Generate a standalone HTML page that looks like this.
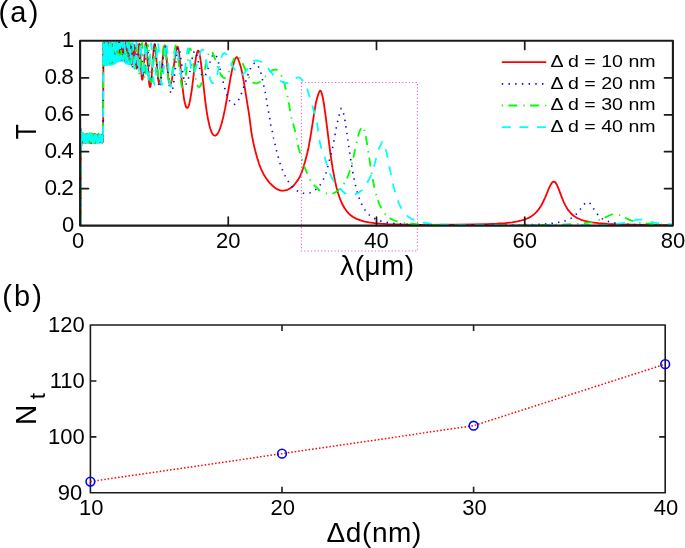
<!DOCTYPE html>
<html><head><meta charset="utf-8"><style>
html,body{margin:0;padding:0;background:#fff;overflow:hidden;}
svg{display:block;will-change:transform;}
text{font-family:"Liberation Sans", sans-serif;}
</style></head><body>
<svg width="685" height="548" viewBox="0 0 685 548">
<path d="M103.20,42.30 L133.70,42.30 L131.70,68.28 L131.20,67.10 L130.70,65.90 L130.20,65.10 L129.70,64.96 L129.20,64.93 L128.70,64.90 L128.20,64.89 L127.70,64.86 L127.20,64.82 L126.70,64.73 L126.20,64.48 L125.70,64.14 L125.20,63.75 L124.70,63.33 L124.20,62.72 L123.70,62.12 L123.20,61.74 L122.70,61.70 L122.20,61.72 L121.70,61.75 L121.20,61.78 L120.70,61.83 L120.20,61.90 L119.70,61.99 L119.20,62.10 L118.70,62.23 L118.20,62.39 L117.70,62.55 L117.20,62.73 L116.70,62.94 L116.20,63.26 L115.70,63.66 L115.20,64.07 L114.70,64.44 L114.20,64.72 L113.70,64.89 L113.20,65.03 L112.70,65.15 L112.20,65.25 L111.70,65.34 L111.20,65.43 L110.70,65.50 L110.20,65.57 L109.70,65.64 L109.20,65.71 L108.70,65.78 L108.20,65.85 L107.70,65.92 L107.20,65.98 L106.70,66.04 L106.20,66.09 L105.70,66.13 L105.20,66.16 L104.70,66.19 L104.20,66.20 L103.70,66.20 L103.20,66.20Z" fill="#00ffff"/>
<path d="M80.60,225.50 80.70,131.00 80.90,129.07 81.30,145.54 81.80,133.00 82.04,134.89 82.28,142.20 82.64,134.28 82.88,142.45 83.12,134.68 83.24,134.65 83.48,142.56 83.84,134.29 84.08,142.29 84.20,141.54 84.44,134.60 84.80,142.46 85.16,134.54 85.52,142.90 85.76,134.60 85.88,134.74 86.12,142.32 86.48,134.17 86.72,141.62 86.84,141.88 87.08,134.39 87.44,141.66 87.56,141.43 87.80,134.57 88.16,142.20 88.52,134.50 88.76,141.73 88.88,142.11 89.12,134.81 89.60,141.91 89.84,134.43 90.20,142.73 90.44,134.25 90.68,141.69 90.80,142.60 91.16,134.11 91.52,143.06 91.76,134.44 92.00,140.93 92.12,140.94 92.36,134.65 92.60,142.10 92.96,135.43 93.20,141.83 93.32,142.35 93.56,134.64 93.92,142.86 94.28,133.91 94.52,141.57 94.64,141.89 94.88,135.76 95.00,136.41 95.12,135.78 95.36,142.77 95.60,134.03 95.96,142.40 96.08,141.67 96.32,134.79 96.68,142.23 96.92,134.79 97.16,142.10 97.28,141.59 97.52,136.28 97.64,135.84 97.88,142.43 98.12,135.15 98.48,142.36 98.84,134.99 99.08,142.34 99.44,135.58 99.56,136.49 99.68,141.82 99.80,142.49 100.04,134.87 100.16,135.18 100.28,140.80 100.40,141.89 100.64,135.62 100.76,135.98 101.00,141.74 101.12,141.54 101.36,135.90 101.60,142.45 101.84,135.29 101.96,135.50 102.20,142.60 102.56,134.48 102.80,141.76 102.92,141.13 103.10,134.50 103.50,43.31 103.94,64.31 104.42,43.71 104.90,61.94 105.34,46.05 105.42,45.02 105.46,45.35 105.94,63.80 106.46,43.89 106.50,43.62 106.58,44.64 106.94,60.28 107.10,62.37 107.66,42.11 108.26,61.36 108.30,61.58 108.34,61.48 108.46,59.43 108.82,45.97 108.98,43.85 109.46,60.18 109.66,63.33 110.38,42.84 110.94,60.39 111.14,63.17 111.34,60.54 111.74,47.57 111.94,44.86 112.14,47.65 112.58,60.50 112.78,62.47 112.98,60.39 113.46,47.34 113.66,45.12 113.86,47.15 114.34,59.16 114.58,61.70 114.82,59.71 115.34,47.07 115.54,44.58 115.58,44.49 115.66,44.71 115.78,45.90 116.54,59.02 116.62,59.25 116.70,59.12 116.86,57.79 117.46,46.68 117.74,44.40 118.02,46.59 118.62,57.17 118.78,58.71 118.94,59.14 119.26,56.45 119.90,44.75 120.18,42.83 120.46,44.98 121.10,56.81 121.42,59.97 121.50,60.14 121.62,59.93 121.82,58.40 122.58,46.18 122.78,44.14 122.94,43.58 123.10,44.08 123.30,46.02 124.10,58.31 124.30,59.93 124.50,60.39 124.70,59.64 124.94,57.27 125.78,44.49 125.98,42.91 126.14,42.56 126.34,43.39 126.54,45.51 127.46,59.75 127.70,61.66 127.90,62.16 128.14,61.50 128.42,59.21 129.42,46.30 129.66,44.75 129.86,44.49 130.06,45.29 130.30,47.50 131.34,61.69 131.62,63.79 131.90,64.47 132.18,63.72 132.50,61.29 133.66,47.28 133.94,45.48 134.18,45.10 134.42,45.98 134.70,48.52 135.94,65.37 136.30,68.00 136.46,68.55 136.62,68.71 136.98,67.61 137.34,64.64 138.74,46.45 139.06,44.24 139.22,43.78 139.34,43.75 139.62,45.12 139.94,48.94 141.42,74.52 141.86,78.54 142.06,79.44 142.26,79.74 142.46,79.52 142.70,78.63 143.18,75.01 145.14,47.73 145.58,43.96 145.82,43.01 146.02,42.87 146.38,44.45 146.78,48.71 148.78,79.95 149.38,85.14 149.70,86.59 150.00,87.11 150.30,86.85 150.60,85.82 151.30,80.66 153.50,51.16 154.00,46.34 154.50,44.07 154.70,43.97 154.80,44.11 155.00,44.75 155.50,48.32 157.30,71.00 158.00,78.03 158.70,82.26 159.00,83.13 159.30,83.43 159.60,83.20 160.00,82.11 160.70,78.21 161.50,71.20 163.30,52.25 163.90,47.82 164.40,45.80 164.70,45.43 165.00,45.78 165.50,48.13 166.10,53.25 167.60,70.01 168.40,77.45 169.30,82.75 169.70,83.92 170.10,84.35 170.50,84.15 171.00,83.19 171.90,79.67 172.90,73.49 175.00,57.01 175.80,51.64 176.70,47.66 177.20,46.68 177.40,46.55 177.60,46.58 178.00,47.34 178.40,48.97 179.20,54.43 182.20,84.57 183.80,97.33 184.60,101.85 185.40,105.10 186.20,107.11 186.60,107.67 187.10,107.97 187.40,107.93 187.80,107.62 188.60,106.12 189.30,103.90 190.10,100.36 191.80,89.75 194.80,65.69 196.00,57.44 196.70,53.89 197.30,51.82 197.90,50.75 198.20,50.60 198.50,50.73 199.00,51.71 199.50,53.55 200.50,59.43 201.50,67.43 205.25,100.95 206.75,111.79 208.00,119.11 209.50,125.91 210.25,128.56 211.25,131.38 212.00,133.00 213.00,134.53 213.75,135.24 214.75,135.64 215.50,135.55 216.25,135.14 217.00,134.42 218.00,133.00 218.75,131.59 219.75,129.26 221.50,123.94 223.25,117.12 225.00,108.90 226.75,99.53 230.75,76.58 232.75,66.70 234.00,61.98 235.00,59.26 236.00,57.60 236.50,57.19 237.10,57.10 238.10,58.96 239.60,63.03 241.10,68.11 242.10,72.56 243.60,80.68 248.60,111.29 249.60,118.18 251.10,130.36 252.10,136.42 253.60,143.86 255.10,150.17 257.10,157.46 259.10,163.98 261.10,169.08 263.60,174.20 266.10,178.26 268.60,181.59 270.10,183.29 272.10,185.26 274.10,187.08 275.60,188.23 277.60,189.34 279.60,190.15 281.10,190.57 282.10,190.70 283.60,190.65 286.60,190.23 287.60,189.78 290.60,188.00 292.60,186.53 293.60,185.55 295.10,183.77 298.10,179.64 299.60,177.16 301.10,173.94 303.10,168.19 305.10,161.47 307.10,153.82 308.60,147.20 310.60,136.06 315.10,107.42 316.10,101.93 317.60,96.34 318.60,93.32 319.60,91.21 320.10,90.60 320.60,90.82 321.10,91.54 322.10,94.41 323.10,99.01 324.10,105.02 325.60,115.90 330.10,151.48 332.60,168.16 335.10,181.38 336.60,187.78 338.10,193.18 340.10,199.07 342.10,203.75 344.60,208.27 347.10,211.68 348.60,213.33 350.10,214.73 353.10,216.97 356.60,218.88 360.60,220.42 364.60,221.52 369.10,222.40 374.60,223.14 380.60,223.68 388.10,224.13 396.60,224.44 420.10,224.80 457.60,224.73 473.60,224.50 486.60,224.16 496.60,223.71 505.10,223.10 512.10,222.32 517.60,221.40 520.60,220.72 523.60,219.87 526.10,218.97 528.60,217.86 531.10,216.46 533.10,215.08 535.10,213.39 536.60,211.88 538.10,210.12 539.60,208.07 541.10,205.70 542.60,202.97 545.10,197.62 549.10,187.97 551.10,183.96 552.10,182.58 552.60,182.09 553.60,181.58 554.10,181.58 554.60,181.76 555.60,182.70 557.10,185.32 558.60,188.91 562.10,198.19 563.60,201.77 565.60,205.87 568.10,209.93 570.60,213.01 572.10,214.49 573.60,215.74 575.10,216.81 577.10,217.99 581.10,219.77 586.10,221.24 591.60,222.31 598.60,223.18 607.60,223.86 618.60,224.35 632.10,224.71 672.60,225.15" fill="none" stroke="#ff0000" stroke-width="1.8" stroke-linejoin="round"/>
<path d="M80.60,225.50 80.70,131.00 80.90,130.97 81.30,147.42 81.80,133.00 82.04,134.24 82.28,141.77 82.40,141.15 82.64,133.29 83.00,142.60 83.24,133.65 83.48,143.03 83.72,134.76 83.84,135.00 84.08,142.88 84.32,134.27 84.68,141.88 85.04,133.93 85.40,142.33 85.64,135.30 85.76,134.62 86.00,142.27 86.24,134.47 86.48,141.10 86.60,141.16 86.84,134.62 86.96,135.76 87.08,142.65 87.44,133.71 87.68,142.91 87.92,135.58 88.04,134.71 88.28,142.04 88.64,135.60 88.88,142.82 89.24,134.67 89.48,142.11 89.72,134.38 90.08,142.22 90.20,142.63 90.44,135.47 90.56,135.48 90.80,142.67 91.04,133.78 91.28,141.35 91.40,142.02 91.64,134.96 91.76,135.08 92.00,141.81 92.12,141.92 92.36,134.57 92.60,142.35 92.84,134.92 92.96,135.40 93.32,142.36 93.56,135.95 93.68,135.48 93.92,142.64 94.16,135.49 94.28,135.12 94.52,143.16 94.76,135.84 94.88,135.07 95.00,136.11 95.12,142.13 95.24,142.29 95.60,135.07 95.72,135.32 95.96,142.88 96.20,135.07 96.56,142.71 96.92,134.99 97.28,142.31 97.64,134.55 97.88,142.16 98.24,135.25 98.48,141.96 98.60,141.62 98.84,134.66 99.08,141.58 99.20,141.41 99.44,135.89 99.56,136.02 99.92,141.96 100.16,134.78 100.52,143.26 100.88,135.12 101.12,142.33 101.24,142.97 101.48,134.35 101.84,142.25 101.96,142.32 102.20,134.61 102.44,142.51 102.56,141.98 102.80,135.27 102.92,137.11 103.10,134.50 103.22,42.32 103.62,62.31 104.02,42.44 104.42,61.87 104.86,43.72 105.30,62.33 105.74,43.69 105.78,43.24 105.86,44.42 106.26,61.07 106.78,43.11 107.26,60.63 107.30,60.87 107.34,60.70 107.42,59.22 107.86,44.88 108.42,62.88 109.02,45.22 109.62,61.04 109.78,59.39 110.30,43.88 110.94,60.14 111.14,58.47 111.54,46.31 111.70,44.44 112.26,58.31 112.38,60.12 112.46,60.40 112.50,60.23 113.22,42.35 113.42,44.65 114.02,60.56 114.06,60.71 114.14,60.49 114.26,59.02 114.74,46.65 114.94,44.34 115.18,46.92 115.66,58.50 115.90,60.33 116.14,57.76 116.78,44.43 116.90,44.23 117.02,45.08 117.62,55.89 117.90,57.95 118.18,55.60 118.78,43.62 119.02,42.05 119.30,44.68 119.86,55.20 120.02,56.93 120.18,57.50 120.46,55.89 121.06,46.75 121.34,44.21 121.42,44.05 121.50,44.17 121.66,45.14 122.38,54.96 122.58,56.67 122.78,57.20 123.14,55.12 123.90,45.39 124.10,44.17 124.18,44.02 124.26,44.10 124.58,46.85 125.34,58.79 125.54,60.52 125.74,61.10 125.94,60.48 126.14,58.75 126.94,46.72 127.30,43.69 127.38,43.54 127.50,43.70 127.70,44.90 128.66,57.47 128.94,59.78 129.18,60.46 129.42,59.93 129.70,57.99 130.74,46.21 130.98,44.86 131.18,44.63 131.38,45.49 131.62,47.95 132.70,64.41 132.98,66.71 133.26,67.46 133.54,66.63 133.86,63.95 135.10,47.06 135.38,45.22 135.50,44.94 135.62,44.99 135.86,46.09 136.14,48.83 137.38,65.95 137.74,68.57 137.90,69.12 138.06,69.28 138.42,68.19 138.78,65.23 140.26,45.82 140.58,43.77 140.74,43.41 140.86,43.47 141.14,44.90 141.46,48.46 142.94,71.65 143.38,75.35 143.58,76.19 143.78,76.49 143.98,76.25 144.18,75.48 144.58,72.44 146.38,46.94 146.78,43.53 146.98,42.75 147.18,42.65 147.54,44.35 147.90,48.17 149.70,75.09 150.30,79.85 150.50,80.65 150.80,81.10 151.00,80.91 151.30,79.93 151.80,76.58 152.40,70.17 154.00,49.42 154.50,45.66 154.80,44.72 155.00,44.70 155.40,46.32 155.90,51.05 157.40,72.34 158.10,80.50 158.80,85.65 159.10,86.85 159.50,87.49 159.80,87.29 160.20,86.19 160.90,82.18 161.70,74.82 163.80,51.23 164.50,46.68 164.80,45.81 165.10,45.64 165.30,45.98 165.60,47.15 166.20,51.58 168.30,76.06 169.30,85.53 170.20,90.87 170.70,92.44 171.20,93.02 171.40,92.99 171.70,92.66 172.20,91.39 173.20,86.40 174.20,78.62 176.80,54.34 177.60,49.49 178.00,48.10 178.30,47.57 178.50,47.46 178.70,47.54 179.10,48.25 179.90,51.61 182.70,72.03 183.80,78.57 184.40,81.12 184.90,82.64 185.40,83.59 185.90,83.98 186.40,83.83 187.00,83.03 187.60,81.58 188.20,79.54 189.40,74.02 192.50,56.88 193.50,53.05 194.00,51.83 194.40,51.23 194.90,50.96 195.30,51.16 195.70,51.71 196.20,52.87 197.20,56.43 199.60,67.60 200.75,72.17 201.50,74.41 202.25,75.98 202.75,76.62 203.50,76.98 204.00,76.85 204.75,76.23 205.50,75.12 206.25,73.57 207.75,69.46 210.75,59.87 212.25,56.15 213.00,54.90 213.75,54.15 214.50,53.92 215.00,54.09 215.75,54.91 216.50,56.34 218.00,60.73 219.50,66.53 224.00,85.57 225.50,90.95 227.00,95.48 228.50,99.08 230.00,101.74 231.50,103.48 232.25,104.02 233.25,104.41 234.00,104.46 234.75,104.28 235.50,103.87 236.25,103.24 237.75,101.35 239.50,98.17 241.00,94.73 242.50,90.76 248.75,72.48 250.25,68.85 251.50,66.39 253.00,64.26 254.25,63.25 255.25,62.96 255.40,63.30 256.40,63.88 257.90,65.83 259.40,68.51 260.40,71.28 261.40,74.76 265.40,93.07 267.40,105.49 269.40,116.38 270.90,125.49 272.40,131.99 273.40,137.31 276.40,150.22 279.40,161.18 280.40,164.39 282.40,169.60 284.90,175.29 287.40,180.16 289.40,183.19 291.90,186.27 295.40,189.60 296.40,190.35 297.90,191.22 299.90,192.23 301.40,192.82 302.90,193.18 305.40,193.39 306.90,193.36 308.40,193.16 309.90,192.86 310.90,192.51 312.40,191.78 314.40,190.56 316.90,188.68 319.40,186.08 321.40,183.13 323.90,178.44 325.40,174.83 326.40,171.74 331.90,150.85 332.90,146.52 336.40,127.38 337.90,120.26 339.40,114.18 340.90,109.01 341.10,108.40 341.60,108.63 342.10,109.31 343.10,111.91 344.10,116.03 345.10,121.38 346.60,130.99 350.60,158.91 352.10,168.29 353.60,176.60 356.10,188.00 357.10,191.77 358.60,196.67 360.60,202.00 362.60,206.23 364.60,209.57 367.10,212.82 369.60,215.28 372.60,217.49 376.10,219.36 379.60,220.69 383.10,221.67 386.60,222.41 390.60,223.03 395.60,223.59 407.60,224.37 424.60,224.85 462.10,225.14 508.10,224.98 533.60,224.51 542.60,224.12 549.60,223.63 556.60,222.82 562.10,221.76 566.60,220.40 568.60,219.57 570.60,218.54 573.60,216.53 576.60,213.80 578.60,211.51 583.10,205.54 584.60,203.79 586.10,202.56 587.10,202.13 587.60,202.05 588.60,202.24 589.10,202.53 590.10,203.46 591.60,205.49 596.10,212.54 598.10,215.05 600.10,217.04 602.10,218.58 604.10,219.78 606.60,220.92 609.60,221.91 613.10,222.72 617.60,223.42 622.60,223.94 629.10,224.37 646.10,224.91 672.60,225.21" fill="none" stroke="#0000ff" stroke-width="1.6" stroke-linejoin="round" stroke-dasharray="1.4 5.2"/>
<path d="M80.60,225.50 80.70,131.00 80.90,130.24 81.30,145.91 81.80,133.00 82.16,141.86 82.40,134.02 82.76,142.30 83.00,134.17 83.12,133.41 83.36,142.12 83.60,133.42 83.96,141.57 84.20,134.42 84.32,134.31 84.56,143.55 84.80,135.15 84.92,134.60 85.16,141.07 85.28,141.58 85.52,134.44 85.76,142.02 85.88,141.77 86.12,134.72 86.36,141.86 86.60,134.11 86.96,141.97 87.32,133.70 87.56,142.27 87.68,141.99 87.92,134.85 88.04,135.53 88.28,142.32 88.52,134.35 88.64,135.29 88.88,142.97 89.12,135.36 89.24,134.45 89.48,142.25 89.60,142.81 89.84,133.16 90.20,142.68 90.44,135.25 90.80,142.63 91.04,135.06 91.28,142.53 91.40,142.06 91.64,133.32 91.88,142.11 92.24,134.35 92.48,141.89 92.60,141.65 92.84,134.44 93.08,141.09 93.20,141.65 93.44,133.87 93.68,142.39 93.80,141.85 94.04,134.31 94.28,142.80 94.64,134.89 94.88,142.01 95.00,141.42 95.24,134.93 95.36,135.02 95.60,142.62 95.84,135.17 96.20,142.31 96.44,135.43 96.56,135.98 96.92,142.95 97.16,135.20 97.40,142.19 97.52,142.32 97.76,134.82 97.88,135.10 98.12,143.01 98.48,133.54 98.72,141.14 98.84,141.66 99.20,134.74 99.44,141.58 99.56,141.49 99.80,135.05 100.04,141.15 100.16,141.66 100.40,134.62 100.64,142.03 100.76,141.47 101.00,135.83 101.24,141.23 101.36,141.81 101.60,135.08 101.96,142.39 102.20,135.68 102.56,143.58 102.92,135.17 103.10,134.50 103.16,64.56 103.52,42.40 103.88,62.49 104.32,44.13 104.64,61.41 104.72,62.54 104.76,61.94 105.12,43.13 105.56,62.96 106.04,42.67 106.48,64.09 106.96,43.00 107.44,62.28 107.48,62.54 107.52,62.30 107.60,60.44 108.00,44.52 108.56,62.69 109.08,45.07 109.12,44.85 109.16,45.07 109.24,46.72 109.56,59.39 109.72,61.70 110.20,45.24 110.36,43.31 110.96,63.84 111.12,61.83 111.64,44.24 112.32,61.83 112.52,60.02 113.08,45.51 113.28,47.99 113.68,59.46 113.80,61.11 113.88,61.33 113.92,61.16 114.48,46.40 114.68,43.87 114.88,46.44 115.32,58.70 115.52,60.82 115.72,58.96 116.20,45.26 116.44,42.33 116.64,44.78 117.12,57.76 117.36,60.43 117.60,58.59 118.32,44.62 118.36,44.52 118.44,44.66 118.56,45.66 119.12,55.60 119.40,57.98 119.56,57.59 119.72,56.08 120.32,46.85 120.48,45.72 120.56,45.61 120.64,45.85 121.40,57.29 121.72,59.58 122.00,57.89 122.68,45.54 123.00,43.04 123.28,45.09 123.92,56.47 124.24,59.56 124.32,59.74 124.44,59.56 124.64,58.18 125.44,46.53 125.64,44.88 125.80,44.58 126.12,46.83 126.92,58.72 127.16,60.52 127.28,60.82 127.36,60.79 127.76,57.79 128.60,44.92 128.80,43.28 128.92,42.91 129.00,42.93 129.36,45.82 130.24,59.97 130.48,62.19 130.72,62.97 130.96,62.29 131.24,59.87 132.24,46.01 132.48,44.33 132.60,44.04 132.68,44.07 132.88,45.10 133.12,47.95 134.12,65.08 134.40,67.79 134.68,68.76 134.96,67.94 135.28,65.00 136.48,46.58 136.72,44.67 136.84,44.24 136.96,44.20 137.20,45.43 137.44,48.24 138.64,68.96 139.00,72.42 139.32,73.46 139.64,72.52 139.96,69.70 141.36,47.01 141.68,43.82 141.84,43.07 142.00,42.93 142.28,44.37 142.56,47.75 144.00,73.24 144.44,77.42 144.64,78.34 144.84,78.62 145.20,77.58 145.60,74.27 147.28,48.41 147.68,44.72 147.88,43.94 148.04,43.88 148.36,45.38 148.72,49.33 150.40,76.02 150.90,80.51 151.20,81.87 151.40,82.21 151.60,82.10 151.90,81.15 152.40,77.56 154.50,49.55 155.00,45.88 155.20,45.33 155.40,45.34 155.80,47.03 156.20,50.65 157.70,70.83 158.30,77.44 159.00,82.18 159.30,83.13 159.60,83.42 159.90,83.04 160.20,81.99 160.80,78.05 161.50,70.80 163.30,48.27 163.90,43.82 164.20,42.83 164.40,42.66 164.50,42.73 165.00,44.55 165.50,48.51 167.40,70.82 168.20,78.35 169.00,83.02 169.40,84.19 169.80,84.58 170.10,84.38 170.50,83.50 171.30,79.73 172.20,72.83 174.60,50.42 175.40,46.21 175.80,45.37 176.10,45.36 176.40,45.89 176.70,46.96 177.40,51.24 179.80,73.40 180.80,80.94 181.40,84.25 181.90,86.22 182.40,87.48 182.70,87.89 183.00,88.05 183.40,87.81 183.90,86.74 184.80,82.78 185.80,75.82 188.40,53.98 189.20,49.84 189.60,48.75 190.00,48.38 190.40,48.66 190.90,49.77 191.80,53.59 194.90,73.93 196.20,80.91 196.90,83.65 197.50,85.38 198.10,86.52 198.80,87.10 199.50,86.95 200.25,86.13 201.00,84.66 201.75,82.60 203.25,77.01 206.50,61.72 207.75,56.58 208.50,54.17 209.25,52.42 210.00,51.40 210.50,51.16 211.25,51.35 212.00,52.07 212.75,53.26 213.50,54.84 214.75,58.14 218.50,69.30 220.50,73.97 221.50,75.67 222.25,76.64 223.00,77.33 224.00,77.83 224.75,77.88 225.50,77.58 226.25,76.88 227.25,75.42 229.00,71.65 232.25,62.83 233.75,59.28 234.50,57.88 235.25,56.81 236.00,56.10 236.75,55.78 237.50,55.83 238.25,56.21 239.00,56.88 240.00,58.20 242.00,61.94 246.75,72.95 249.00,77.44 250.50,79.82 251.75,81.36 253.00,82.48 254.25,83.17 255.50,83.43 256.75,83.32 258.25,82.80 259.75,81.90 262.50,79.50 268.50,73.11 270.25,71.60 271.75,70.61 273.50,69.86 275.25,69.60 275.30,69.40 276.30,69.61 277.30,70.14 278.80,71.26 280.30,73.29 282.30,77.28 283.80,81.60 286.30,91.05 287.80,97.63 289.30,105.61 290.80,115.05 291.30,117.43 294.80,129.82 295.80,134.44 297.30,142.75 298.80,148.66 302.30,160.39 305.30,168.97 307.30,173.83 309.30,178.25 310.80,181.04 311.80,182.51 313.80,184.79 317.30,188.09 319.30,190.29 320.30,191.11 321.80,192.02 323.30,192.69 327.80,193.69 329.80,193.88 331.30,193.84 332.80,193.46 335.30,192.35 336.80,191.50 337.80,190.68 341.80,186.64 343.80,184.21 345.30,181.85 347.30,177.63 349.30,172.47 351.30,166.25 352.80,160.57 354.80,150.22 358.80,133.72 359.80,130.77 361.30,127.66 362.30,126.50 362.80,126.66 363.30,127.28 364.30,129.85 365.80,136.49 367.30,145.40 371.30,171.36 373.80,184.83 375.80,193.33 376.80,196.88 378.30,201.43 379.80,205.18 381.30,208.27 383.30,211.57 385.30,214.13 387.80,216.56 390.30,218.38 393.30,219.98 396.30,221.14 399.30,222.00 402.30,222.65 405.80,223.22 410.30,223.75 420.30,224.44 434.30,224.89 462.30,225.18 505.80,225.20 540.30,224.99 562.80,224.55 572.30,224.15 579.80,223.63 585.80,222.97 591.30,222.07 595.80,221.00 599.80,219.70 603.30,218.26 609.30,215.48 611.30,214.72 613.30,214.21 615.30,214.05 617.30,214.30 619.30,214.95 626.80,218.68 630.80,220.36 634.80,221.60 638.80,222.49 644.80,223.38 651.80,224.02 660.80,224.50 672.80,224.85" fill="none" stroke="#00ff00" stroke-width="1.8" stroke-linejoin="round" stroke-dasharray="1.3 5.3 8.8 6.3"/>
<path d="M80.60,225.50 80.70,131.00 80.90,129.06 81.30,146.33 81.80,133.00 82.04,142.09 82.40,134.30 82.64,141.07 82.76,141.24 83.00,132.76 83.24,141.98 83.36,141.79 83.48,136.61 83.72,134.28 83.84,140.61 83.96,142.21 84.08,141.77 84.20,135.47 84.32,134.43 84.56,142.57 84.80,133.22 85.16,141.75 85.40,134.35 85.52,135.08 85.76,142.62 86.12,134.81 86.36,141.70 86.60,134.29 86.96,142.47 87.08,142.07 87.32,133.59 87.56,142.27 87.92,135.26 88.16,142.30 88.28,141.37 88.52,133.78 88.76,142.03 88.88,141.47 89.12,134.38 89.48,142.25 89.72,134.05 90.08,142.47 90.44,133.78 90.80,142.90 91.04,134.20 91.40,143.27 91.64,135.33 91.76,134.63 92.00,141.40 92.12,141.62 92.36,134.64 92.48,134.60 92.84,143.07 93.08,135.09 93.20,135.45 93.44,143.10 93.80,135.40 94.16,142.29 94.40,135.98 94.52,135.50 94.64,141.31 94.76,142.24 95.00,135.12 95.12,135.19 95.36,142.24 95.48,141.41 95.72,134.35 96.08,142.68 96.32,135.94 96.44,135.20 96.80,141.93 97.04,134.91 97.40,143.07 97.76,134.06 98.12,142.51 98.36,135.11 98.48,135.62 98.72,142.61 98.96,135.74 99.08,135.04 99.44,142.27 99.68,135.13 99.92,141.57 100.04,141.87 100.28,134.28 100.52,141.95 100.64,141.91 100.88,134.96 101.12,141.75 101.24,141.42 101.36,135.84 101.48,135.36 101.84,143.39 102.08,135.15 102.32,141.16 102.44,141.07 102.68,135.58 102.92,140.64 103.10,134.50 103.31,44.15 103.47,63.38 103.71,44.07 103.99,64.19 104.19,42.31 104.43,64.40 104.71,44.22 104.99,64.71 105.23,42.65 105.51,64.54 105.79,42.26 106.07,65.10 106.39,42.91 106.67,64.48 106.99,42.48 107.31,63.59 107.67,44.82 107.99,64.72 108.35,44.33 108.71,64.21 109.11,44.92 109.51,63.66 109.91,43.12 110.31,64.43 110.75,43.86 111.19,63.63 111.67,43.86 112.15,63.05 112.63,44.63 113.03,61.23 113.19,63.14 113.71,42.22 114.23,62.89 114.39,60.61 114.83,43.69 115.43,62.70 115.59,60.73 116.07,44.36 116.75,60.69 116.95,57.82 117.31,45.60 117.43,43.82 117.51,44.04 117.99,58.24 118.19,60.86 118.39,58.31 118.79,45.88 118.99,43.84 119.59,59.13 119.79,60.96 120.03,57.51 120.43,45.59 120.63,43.16 120.83,45.28 121.31,57.44 121.51,59.54 121.75,57.70 122.27,45.24 122.51,43.02 122.71,45.12 123.19,56.76 123.43,60.01 123.51,60.23 123.59,60.04 123.75,58.52 124.31,47.46 124.59,44.96 124.87,47.61 125.47,60.00 125.75,61.99 126.07,58.92 126.71,44.38 126.99,42.04 127.27,44.98 127.95,60.56 128.15,63.00 128.31,63.54 128.63,60.93 129.39,44.89 129.71,41.98 129.87,42.65 130.07,45.36 130.87,62.36 131.23,65.25 131.43,64.71 131.67,62.29 132.59,45.95 132.83,44.13 132.95,44.09 133.03,44.46 133.35,48.77 134.15,65.83 134.43,69.16 134.67,70.01 134.91,68.89 135.19,65.26 136.19,44.70 136.39,42.71 136.51,42.29 136.59,42.37 136.99,46.92 137.99,68.45 138.27,71.72 138.55,72.78 138.83,71.58 139.15,67.69 140.27,45.55 140.51,43.02 140.63,42.47 140.75,42.46 140.95,43.74 141.19,47.22 142.35,72.23 142.71,76.42 142.87,77.31 143.03,77.57 143.19,77.22 143.39,75.94 143.75,71.50 145.07,45.80 145.35,43.13 145.47,42.70 145.59,42.73 145.83,44.31 146.11,48.36 147.43,75.81 147.83,80.42 148.03,81.61 148.23,82.03 148.39,81.81 148.59,80.88 148.99,76.95 150.50,49.03 150.90,44.39 151.20,43.38 151.50,44.73 151.80,48.28 153.50,79.03 154.00,83.56 154.20,84.40 154.40,84.68 154.60,84.39 154.80,83.54 155.30,79.11 157.10,48.39 157.50,43.75 157.70,42.49 157.90,42.01 158.10,42.35 158.30,43.46 158.70,47.71 160.10,71.12 160.70,79.06 161.30,83.73 161.50,84.49 161.80,84.90 162.00,84.68 162.30,83.62 162.90,79.09 163.50,71.79 165.10,48.09 165.60,43.56 165.90,42.31 166.10,42.14 166.50,43.50 167.00,47.96 168.70,72.16 169.40,80.14 170.10,85.09 170.40,86.21 170.80,86.76 171.10,86.48 171.40,85.64 172.10,81.64 172.90,74.10 174.80,52.30 175.40,48.02 175.70,46.90 176.00,46.54 176.30,46.75 176.70,47.67 177.40,50.76 179.90,68.20 180.90,73.90 181.90,77.47 182.30,78.23 182.80,78.63 183.20,78.40 183.50,77.75 184.20,74.70 184.90,69.87 186.90,53.14 187.60,49.48 187.90,48.68 188.20,48.38 188.40,48.52 188.60,49.01 189.00,50.95 191.10,69.20 191.70,72.63 192.20,74.04 192.40,74.20 192.60,74.20 193.30,73.77 193.90,72.97 194.60,71.55 196.00,67.45 198.80,57.01 200.00,53.15 200.75,51.34 201.50,50.11 202.25,49.53 202.75,49.54 203.25,50.05 203.75,51.06 204.75,54.36 208.25,71.42 209.75,77.53 210.50,79.82 211.25,81.54 212.00,82.67 212.75,83.20 213.50,83.14 214.00,82.74 214.75,81.64 215.50,79.97 217.00,75.21 220.25,61.89 221.50,57.47 222.25,55.45 223.00,54.03 223.50,53.46 224.25,53.18 225.00,53.36 226.00,54.06 226.75,54.88 227.75,56.32 229.25,59.02 233.50,67.64 235.75,71.34 236.75,72.61 237.75,73.61 238.75,74.34 239.75,74.78 240.75,74.95 241.75,74.82 242.75,74.37 243.75,73.64 244.75,72.65 246.00,71.14 250.25,65.03 252.25,62.57 253.25,61.63 254.25,60.94 255.25,60.52 256.25,60.37 257.80,60.56 259.30,61.00 261.30,61.88 263.30,62.99 265.30,64.99 267.80,67.95 271.80,73.16 275.30,76.91 277.30,78.70 279.80,80.58 281.30,81.48 283.30,82.34 285.80,83.12 286.80,83.20 287.80,83.03 289.30,82.37 292.30,80.54 294.30,78.91 295.30,78.28 296.80,77.76 298.30,77.44 299.30,77.46 299.80,77.69 301.30,79.09 303.80,82.21 305.80,85.74 307.30,89.33 310.80,100.39 316.30,119.27 317.80,127.80 319.80,142.31 320.80,146.64 321.80,149.51 323.80,154.32 327.30,166.00 330.30,174.26 331.30,176.57 332.80,179.47 334.30,181.92 336.30,184.61 338.80,187.39 342.80,191.50 344.30,192.86 345.80,193.74 347.80,194.46 349.30,194.81 350.80,194.89 352.30,194.77 354.80,194.34 356.30,193.92 357.80,193.22 359.30,192.28 362.80,189.41 364.30,187.57 365.80,185.19 369.30,178.98 371.30,174.74 372.80,170.53 374.80,163.75 377.30,153.67 378.30,150.18 379.30,147.69 381.30,143.67 382.20,141.50 382.70,141.66 383.20,142.14 384.20,144.03 385.70,148.85 387.20,155.44 391.70,178.09 393.70,186.93 396.20,195.98 397.20,198.99 398.70,202.91 400.20,206.21 402.20,209.78 404.20,212.61 406.20,214.84 408.20,216.62 410.70,218.36 413.70,219.91 416.70,221.06 419.70,221.93 422.70,222.58 429.70,223.60 438.70,224.32 451.20,224.82 468.70,225.12 494.70,225.29 536.70,225.33 572.70,225.22 598.70,224.85 607.20,224.54 614.20,224.10 619.20,223.58 623.20,222.99 627.70,222.05 635.70,220.01 637.70,219.69 639.70,219.58 641.70,219.71 643.70,220.04 652.20,222.20 657.70,223.26 664.20,224.03 672.70,224.58" fill="none" stroke="#00ffff" stroke-width="1.8" stroke-linejoin="round" stroke-dasharray="9 8.6"/>
<rect x="301.4" y="82.5" width="116" height="168.5" fill="none" stroke="#ee55cc" stroke-width="1.1" stroke-dasharray="1.1 2.26"/>
<path d="M80.1,40.8 H672.9 V225.6 H80.1 Z" fill="none" stroke="#1a1a1a" stroke-width="2.1" stroke-linejoin="round"/>
<path d="M228.25,225.5 v-8.5 M228.25,41 v8.5 M376.50,225.5 v-8.5 M376.50,41 v8.5 M524.75,225.5 v-8.5 M524.75,41 v8.5 M80,188.60 h8.5 M673,188.60 h-8.5 M80,151.70 h8.5 M673,151.70 h-8.5 M80,114.80 h8.5 M673,114.80 h-8.5 M80,77.90 h8.5 M673,77.90 h-8.5" stroke="#1a1a1a" stroke-width="1.7" stroke-linecap="round"/>
<g font-size="22" fill="#000"><text x="74.2" y="231.90" text-anchor="end">0</text><text x="72.8" y="195.00" text-anchor="end" font-size="22.6" letter-spacing="-1.0">0.2</text><text x="72.8" y="158.10" text-anchor="end" font-size="22.6" letter-spacing="-1.0">0.4</text><text x="72.8" y="121.20" text-anchor="end" font-size="22.6" letter-spacing="-1.0">0.6</text><text x="72.8" y="84.30" text-anchor="end" font-size="22.6" letter-spacing="-1.0">0.8</text><text x="74.2" y="47.40" text-anchor="end">1</text><text x="78.00" y="248" text-anchor="middle">0</text><text x="228.25" y="248" text-anchor="middle">20</text><text x="376.50" y="248" text-anchor="middle">40</text><text x="524.75" y="248" text-anchor="middle">60</text><text x="673.00" y="248" text-anchor="middle">80</text></g>
<text x="377.4" y="275.2" font-size="28" letter-spacing="0.4" text-anchor="middle">λ(μm)</text>
<text transform="translate(36.1,131.7) rotate(-90) scale(0.84,1)" font-size="29.5" text-anchor="middle">T</text>
<text x="-1.5" y="21.5" font-size="29" letter-spacing="2.2">(a)</text>
<path d="M501.8,62.1 H546.2" stroke="#ff0000" stroke-width="1.8"/><text x="550.6" y="67.0" font-size="16" textLength="105" lengthAdjust="spacingAndGlyphs">Δ d = 10 nm</text><path d="M501.8,83.9 H546.2" stroke="#0000ff" stroke-width="1.6" stroke-dasharray="1.4 5.3"/><text x="550.6" y="88.8" font-size="16" textLength="105" lengthAdjust="spacingAndGlyphs">Δ d = 20 nm</text><path d="M501.8,105.5 H546.2" stroke="#00ff00" stroke-width="1.8" stroke-dasharray="1.3 5.3 8.8 6.3"/><text x="550.6" y="110.4" font-size="16" textLength="105" lengthAdjust="spacingAndGlyphs">Δ d = 30 nm</text><path d="M501.8,127.2 H546.2" stroke="#00ffff" stroke-width="1.8" stroke-dasharray="9 8.6"/><text x="550.6" y="132.1" font-size="16" textLength="105" lengthAdjust="spacingAndGlyphs">Δ d = 40 nm</text>
<path d="M90.4,325 H665.2 V492.8 H90.4 Z" fill="none" stroke="#1c1c1c" stroke-width="1.6" stroke-linejoin="round"/>
<path d="M282.00,492.8 v-6 M282.00,325 v6 M473.60,492.8 v-6 M473.60,325 v6 M90.4,436.87 h6 M665.2,436.87 h-6 M90.4,380.94 h6 M665.2,380.94 h-6" stroke="#1c1c1c" stroke-width="1.6"/>
<g font-size="22" fill="#000"><text x="82.2" y="499.50" text-anchor="end">90</text><text x="84.8" y="443.57" text-anchor="end">100</text><text x="84.8" y="387.64" text-anchor="end">110</text><text x="84.8" y="331.71" text-anchor="end">120</text><text x="91.20" y="515" text-anchor="middle">10</text><text x="282.80" y="515" text-anchor="middle">20</text><text x="474.40" y="515" text-anchor="middle">30</text><text x="666.00" y="515" text-anchor="middle">40</text></g>
<path d="M90.40,481.61 L282.00,453.65 L473.60,425.68 L665.20,364.16" fill="none" stroke="#ff0000" stroke-width="1.5" stroke-dasharray="1.5 2"/>
<circle cx="90.40" cy="481.61" r="4.35" fill="none" stroke="#0000ff" stroke-width="1.6"/>
<circle cx="282.00" cy="453.65" r="4.35" fill="none" stroke="#0000ff" stroke-width="1.6"/>
<circle cx="473.60" cy="425.68" r="4.35" fill="none" stroke="#0000ff" stroke-width="1.6"/>
<circle cx="665.20" cy="364.16" r="4.35" fill="none" stroke="#0000ff" stroke-width="1.6"/>
<text x="2.2" y="305.5" font-size="29" letter-spacing="2.2">(b)</text>
<text x="374.2" y="542.2" font-size="28" letter-spacing="0.6" text-anchor="middle">Δd(nm)</text>
<g transform="translate(36.3,424.9) rotate(-90)"><text x="0" y="0" font-size="29.5" transform="scale(0.95,1)">N</text><text x="25.6" y="8.7" font-size="22.5">t</text></g>
</svg>
</body></html>
